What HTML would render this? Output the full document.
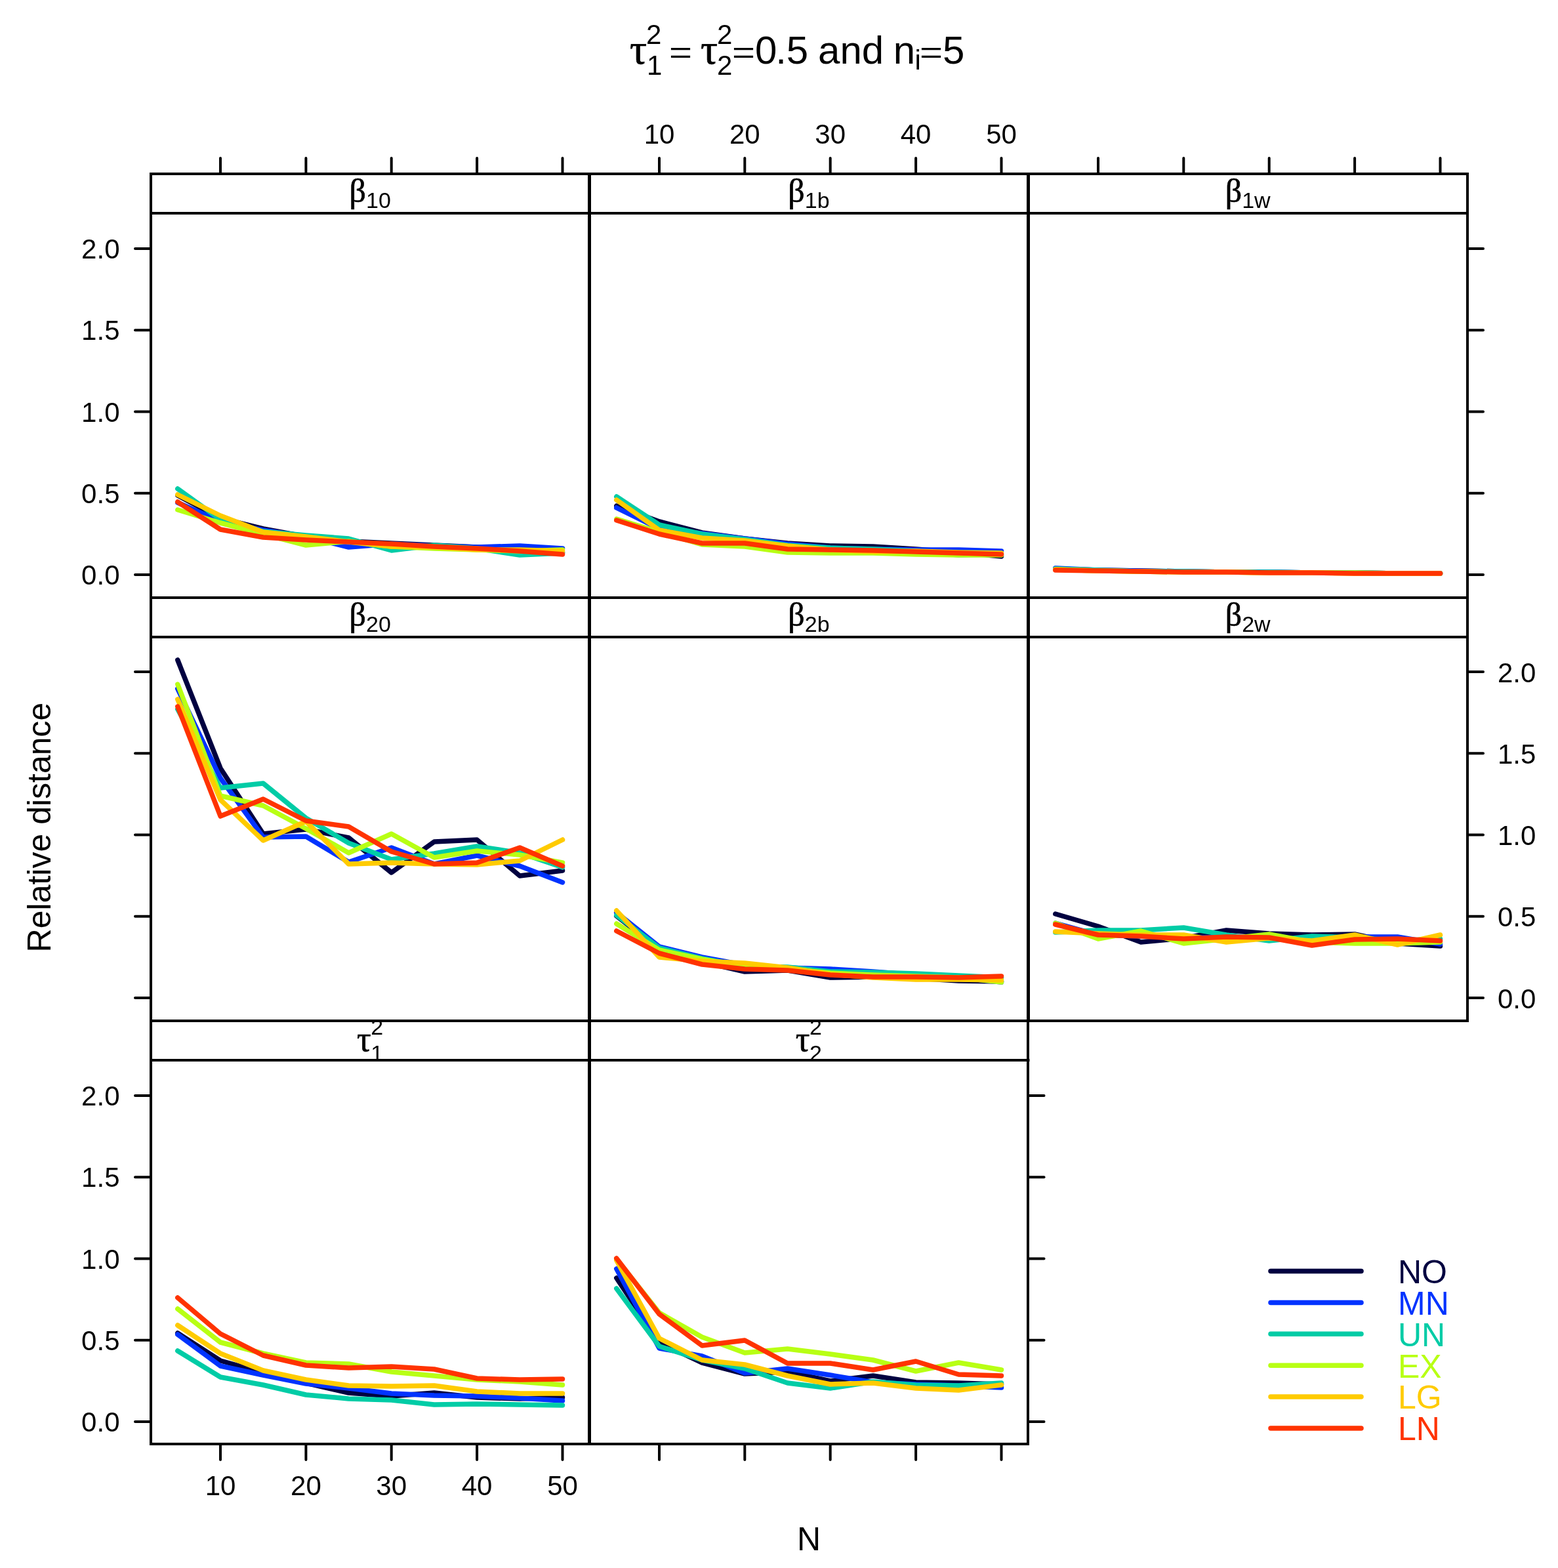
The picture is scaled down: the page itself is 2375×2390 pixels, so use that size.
<!DOCTYPE html><html><head><meta charset="utf-8"><title>Relative distance plot</title>
<style>html,body{margin:0;padding:0;background:#fff;overflow:hidden;width:2375px;height:2390px;}svg{display:block;}text{font-family:'Liberation Sans', Arial, Helvetica, sans-serif;fill:#000;}.g{font-family:'Liberation Serif', 'Times New Roman', serif;stroke:#000;stroke-width:0.7px;}</style></head><body>
<svg width="2375" height="2390" viewBox="0 0 2375 2390">
<rect x="0" y="0" width="2375" height="2390" fill="#fff"/>
<defs>
<clipPath id="c00"><rect x="230" y="325" width="668.5" height="586"/></clipPath>
<clipPath id="c01"><rect x="898.5" y="325" width="669" height="586"/></clipPath>
<clipPath id="c02"><rect x="1567.5" y="325" width="669.5" height="586"/></clipPath>
<clipPath id="c10"><rect x="230" y="971" width="668.5" height="585"/></clipPath>
<clipPath id="c11"><rect x="898.5" y="971" width="669" height="585"/></clipPath>
<clipPath id="c12"><rect x="1567.5" y="971" width="669.5" height="585"/></clipPath>
<clipPath id="c20"><rect x="230" y="1616" width="668.5" height="585"/></clipPath>
<clipPath id="c21"><rect x="898.5" y="1616" width="669" height="585"/></clipPath>
</defs>
<g clip-path="url(#c00)" fill="none" stroke-width="7.5" stroke-linecap="round" stroke-linejoin="round">
<polyline stroke="#000040" points="270.8,755 336.0,790 401.2,806 466.4,818 531.5,825 596.7,828 661.9,831 727.1,834 792.3,838 857.5,842"/>
<polyline stroke="#0033FF" points="270.8,766 336.0,795 401.2,808 466.4,818 531.5,834 596.7,829 661.9,832 727.1,834 792.3,832 857.5,836"/>
<polyline stroke="#00CCA6" points="270.8,745 336.0,792 401.2,810 466.4,816 531.5,821 596.7,839 661.9,831 727.1,836 792.3,846 857.5,843"/>
<polyline stroke="#B8FF14" points="270.8,777 336.0,797 401.2,814 466.4,831 531.5,825 596.7,833 661.9,836 727.1,838 792.3,840 857.5,838"/>
<polyline stroke="#FFCB00" points="270.8,754 336.0,786 401.2,811 466.4,818 531.5,826 596.7,833 661.9,834 727.1,838 792.3,838 857.5,840"/>
<polyline stroke="#FF3300" points="270.8,765 336.0,807 401.2,819 466.4,823 531.5,826 596.7,829 661.9,833 727.1,836 792.3,840 857.5,845"/>
</g>
<g clip-path="url(#c01)" fill="none" stroke-width="7.5" stroke-linecap="round" stroke-linejoin="round">
<polyline stroke="#000040" points="939.8,771 1005.0,795 1070.2,812 1135.3,821 1200.5,828 1265.7,832 1330.9,833 1396.1,837 1461.3,842 1526.5,848"/>
<polyline stroke="#0033FF" points="939.8,774 1005.0,806 1070.2,813 1135.3,821 1200.5,829 1265.7,835 1330.9,837 1396.1,838 1461.3,838 1526.5,840"/>
<polyline stroke="#00CCA6" points="939.8,757 1005.0,800 1070.2,814 1135.3,822 1200.5,831 1265.7,835 1330.9,837 1396.1,840 1461.3,846 1526.5,845"/>
<polyline stroke="#B8FF14" points="939.8,791 1005.0,811 1070.2,830 1135.3,833 1200.5,842 1265.7,843 1330.9,843 1396.1,845 1461.3,846 1526.5,846"/>
<polyline stroke="#FFCB00" points="939.8,762 1005.0,808 1070.2,820 1135.3,824 1200.5,832 1265.7,838 1330.9,841 1396.1,840 1461.3,842 1526.5,843"/>
<polyline stroke="#FF3300" points="939.8,793 1005.0,814 1070.2,828 1135.3,828 1200.5,837 1265.7,838 1330.9,839 1396.1,841 1461.3,843 1526.5,845"/>
</g>
<g clip-path="url(#c02)" fill="none" stroke-width="7.5" stroke-linecap="round" stroke-linejoin="round">
<polyline stroke="#000040" points="1608.8,867 1674.0,869 1739.2,870 1804.3,871 1869.5,872 1934.7,872 1999.9,873 2065.1,873 2130.3,874 2195.5,874"/>
<polyline stroke="#0033FF" points="1608.8,866 1674.0,869 1739.2,870 1804.3,871 1869.5,872 1934.7,872 1999.9,873 2065.1,873 2130.3,874 2195.5,874"/>
<polyline stroke="#00CCA6" points="1608.8,867 1674.0,869 1739.2,871 1804.3,871 1869.5,872 1934.7,872 1999.9,873 2065.1,873 2130.3,874 2195.5,874"/>
<polyline stroke="#B8FF14" points="1608.8,868 1674.0,870 1739.2,871 1804.3,872 1869.5,872 1934.7,873 1999.9,873 2065.1,873 2130.3,874 2195.5,874"/>
<polyline stroke="#FFCB00" points="1608.8,868 1674.0,870 1739.2,871 1804.3,872 1869.5,872 1934.7,873 1999.9,873 2065.1,874 2130.3,874 2195.5,874"/>
<polyline stroke="#FF3300" points="1608.8,869 1674.0,870 1739.2,871 1804.3,872 1869.5,872 1934.7,873 1999.9,873 2065.1,874 2130.3,874 2195.5,874"/>
</g>
<g clip-path="url(#c10)" fill="none" stroke-width="7.5" stroke-linecap="round" stroke-linejoin="round">
<polyline stroke="#000040" points="270.8,1006 336.0,1171 401.2,1271 466.4,1264 531.5,1277 596.7,1330 661.9,1283 727.1,1280 792.3,1335 857.5,1327"/>
<polyline stroke="#0033FF" points="270.8,1050 336.0,1186 401.2,1276 466.4,1275 531.5,1314 596.7,1292 661.9,1317 727.1,1304 792.3,1320 857.5,1345"/>
<polyline stroke="#00CCA6" points="270.8,1081 336.0,1201 401.2,1194 466.4,1247 531.5,1285 596.7,1310 661.9,1301 727.1,1290 792.3,1300 857.5,1322"/>
<polyline stroke="#B8FF14" points="270.8,1043 336.0,1213 401.2,1228 466.4,1263 531.5,1300 596.7,1271 661.9,1307 727.1,1297 792.3,1303 857.5,1315"/>
<polyline stroke="#FFCB00" points="270.8,1066 336.0,1219 401.2,1281 466.4,1252 531.5,1317 596.7,1315 661.9,1317 727.1,1318 792.3,1312 857.5,1280"/>
<polyline stroke="#FF3300" points="270.8,1077 336.0,1244 401.2,1218 466.4,1251 531.5,1260 596.7,1298 661.9,1317 727.1,1315 792.3,1292 857.5,1320"/>
</g>
<g clip-path="url(#c11)" fill="none" stroke-width="7.5" stroke-linecap="round" stroke-linejoin="round">
<polyline stroke="#000040" points="939.8,1396 1005.0,1447 1070.2,1466 1135.3,1481 1200.5,1479 1265.7,1490 1330.9,1489 1396.1,1491 1461.3,1495 1526.5,1496"/>
<polyline stroke="#0033FF" points="939.8,1391 1005.0,1443 1070.2,1459 1135.3,1471 1200.5,1475 1265.7,1477 1330.9,1481 1396.1,1486 1461.3,1490 1526.5,1497"/>
<polyline stroke="#00CCA6" points="939.8,1395 1005.0,1445 1070.2,1461 1135.3,1473 1200.5,1474 1265.7,1481 1330.9,1482 1396.1,1484 1461.3,1487 1526.5,1490"/>
<polyline stroke="#B8FF14" points="939.8,1408 1005.0,1448 1070.2,1462 1135.3,1473 1200.5,1477 1265.7,1483 1330.9,1486 1396.1,1488 1461.3,1490 1526.5,1497"/>
<polyline stroke="#FFCB00" points="939.8,1388 1005.0,1459 1070.2,1465 1135.3,1468 1200.5,1475 1265.7,1485 1330.9,1490 1396.1,1493 1461.3,1493 1526.5,1494"/>
<polyline stroke="#FF3300" points="939.8,1419 1005.0,1453 1070.2,1470 1135.3,1477 1200.5,1479 1265.7,1486 1330.9,1489 1396.1,1489 1461.3,1490 1526.5,1488"/>
</g>
<g clip-path="url(#c12)" fill="none" stroke-width="7.5" stroke-linecap="round" stroke-linejoin="round">
<polyline stroke="#000040" points="1608.8,1393 1674.0,1412 1739.2,1436 1804.3,1430 1869.5,1418 1934.7,1423 1999.9,1425 2065.1,1424 2130.3,1438 2195.5,1442"/>
<polyline stroke="#0033FF" points="1608.8,1407 1674.0,1425 1739.2,1427 1804.3,1430 1869.5,1428 1934.7,1430 1999.9,1432 2065.1,1428 2130.3,1428 2195.5,1439"/>
<polyline stroke="#00CCA6" points="1608.8,1421 1674.0,1418 1739.2,1418 1804.3,1414 1869.5,1425 1934.7,1434 1999.9,1427 2065.1,1429 2130.3,1434 2195.5,1431"/>
<polyline stroke="#B8FF14" points="1608.8,1407 1674.0,1431 1739.2,1419 1804.3,1438 1869.5,1431 1934.7,1424 1999.9,1436 2065.1,1438 2130.3,1438 2195.5,1436"/>
<polyline stroke="#FFCB00" points="1608.8,1420 1674.0,1423 1739.2,1425 1804.3,1425 1869.5,1436 1934.7,1430 1999.9,1434 2065.1,1425 2130.3,1440 2195.5,1425"/>
<polyline stroke="#FF3300" points="1608.8,1409 1674.0,1425 1739.2,1427 1804.3,1431 1869.5,1428 1934.7,1429 1999.9,1441 2065.1,1432 2130.3,1431 2195.5,1434"/>
</g>
<g clip-path="url(#c20)" fill="none" stroke-width="7.5" stroke-linecap="round" stroke-linejoin="round">
<polyline stroke="#000040" points="270.8,2032 336.0,2074 401.2,2092 466.4,2108 531.5,2123 596.7,2128 661.9,2123 727.1,2130 792.3,2132 857.5,2130"/>
<polyline stroke="#0033FF" points="270.8,2034 336.0,2082 401.2,2096 466.4,2109 531.5,2116 596.7,2124 661.9,2127 727.1,2128 792.3,2131 857.5,2135"/>
<polyline stroke="#00CCA6" points="270.8,2059 336.0,2099 401.2,2111 466.4,2126 531.5,2132 596.7,2134 661.9,2141 727.1,2140 792.3,2141 857.5,2142"/>
<polyline stroke="#B8FF14" points="270.8,1995 336.0,2046 401.2,2063 466.4,2077 531.5,2079 596.7,2091 661.9,2097 727.1,2103 792.3,2106 857.5,2111"/>
<polyline stroke="#FFCB00" points="270.8,2020 336.0,2063 401.2,2089 466.4,2103 531.5,2112 596.7,2113 661.9,2112 727.1,2121 792.3,2124 857.5,2124"/>
<polyline stroke="#FF3300" points="270.8,1978 336.0,2033 401.2,2066 466.4,2081 531.5,2085 596.7,2083 661.9,2087 727.1,2101 792.3,2103 857.5,2102"/>
</g>
<g clip-path="url(#c21)" fill="none" stroke-width="7.5" stroke-linecap="round" stroke-linejoin="round">
<polyline stroke="#000040" points="939.8,1948 1005.0,2046 1070.2,2077 1135.3,2094 1200.5,2091 1265.7,2105 1330.9,2097 1396.1,2107 1461.3,2108 1526.5,2110"/>
<polyline stroke="#0033FF" points="939.8,1934 1005.0,2055 1070.2,2067 1135.3,2093 1200.5,2086 1265.7,2096 1330.9,2107 1396.1,2110 1461.3,2112 1526.5,2115"/>
<polyline stroke="#00CCA6" points="939.8,1964 1005.0,2052 1070.2,2073 1135.3,2086 1200.5,2108 1265.7,2116 1330.9,2106 1396.1,2111 1461.3,2112 1526.5,2108"/>
<polyline stroke="#B8FF14" points="939.8,1919 1005.0,2001 1070.2,2038 1135.3,2062 1200.5,2056 1265.7,2064 1330.9,2073 1396.1,2090 1461.3,2077 1526.5,2088"/>
<polyline stroke="#FFCB00" points="939.8,1921 1005.0,2040 1070.2,2073 1135.3,2080 1200.5,2097 1265.7,2110 1330.9,2108 1396.1,2116 1461.3,2119 1526.5,2111"/>
<polyline stroke="#FF3300" points="939.8,1918 1005.0,2003 1070.2,2051 1135.3,2043 1200.5,2078 1265.7,2078 1330.9,2088 1396.1,2075 1461.3,2095 1526.5,2097"/>
</g>
<g fill="none" stroke="#000" stroke-width="4" stroke-linecap="square">
<rect x="230" y="265" width="668" height="646"/>
<line x1="230" y1="325" x2="898.5" y2="325"/>
<rect x="899" y="265" width="668" height="646"/>
<line x1="898.5" y1="325" x2="1567.5" y2="325"/>
<rect x="1568" y="265" width="669" height="646"/>
<line x1="1567.5" y1="325" x2="2237" y2="325"/>
<rect x="230" y="911" width="668" height="645"/>
<line x1="230" y1="971" x2="898.5" y2="971"/>
<rect x="899" y="911" width="668" height="645"/>
<line x1="898.5" y1="971" x2="1567.5" y2="971"/>
<rect x="1568" y="911" width="669" height="645"/>
<line x1="1567.5" y1="971" x2="2237" y2="971"/>
<rect x="230" y="1556" width="668" height="645"/>
<line x1="230" y1="1616" x2="898.5" y2="1616"/>
<rect x="899" y="1556" width="668" height="645"/>
<line x1="898.5" y1="1616" x2="1567.5" y2="1616"/>
</g>
<g stroke="#000" stroke-width="4" stroke-linecap="round">
<line x1="336.0" y1="265" x2="336.0" y2="241"/>
<line x1="466.4" y1="265" x2="466.4" y2="241"/>
<line x1="596.7" y1="265" x2="596.7" y2="241"/>
<line x1="727.1" y1="265" x2="727.1" y2="241"/>
<line x1="857.5" y1="265" x2="857.5" y2="241"/>
<line x1="1005.0" y1="265" x2="1005.0" y2="241"/>
<line x1="1135.3" y1="265" x2="1135.3" y2="241"/>
<line x1="1265.7" y1="265" x2="1265.7" y2="241"/>
<line x1="1396.1" y1="265" x2="1396.1" y2="241"/>
<line x1="1526.5" y1="265" x2="1526.5" y2="241"/>
<line x1="1674.0" y1="265" x2="1674.0" y2="241"/>
<line x1="1804.3" y1="265" x2="1804.3" y2="241"/>
<line x1="1934.7" y1="265" x2="1934.7" y2="241"/>
<line x1="2065.1" y1="265" x2="2065.1" y2="241"/>
<line x1="2195.5" y1="265" x2="2195.5" y2="241"/>
<line x1="336.0" y1="2201" x2="336.0" y2="2225"/>
<line x1="466.4" y1="2201" x2="466.4" y2="2225"/>
<line x1="596.7" y1="2201" x2="596.7" y2="2225"/>
<line x1="727.1" y1="2201" x2="727.1" y2="2225"/>
<line x1="857.5" y1="2201" x2="857.5" y2="2225"/>
<line x1="1005.0" y1="2201" x2="1005.0" y2="2225"/>
<line x1="1135.3" y1="2201" x2="1135.3" y2="2225"/>
<line x1="1265.7" y1="2201" x2="1265.7" y2="2225"/>
<line x1="1396.1" y1="2201" x2="1396.1" y2="2225"/>
<line x1="1526.5" y1="2201" x2="1526.5" y2="2225"/>
<line x1="230" y1="876.0" x2="206" y2="876.0"/>
<line x1="2237" y1="876.0" x2="2261" y2="876.0"/>
<line x1="230" y1="751.8" x2="206" y2="751.8"/>
<line x1="2237" y1="751.8" x2="2261" y2="751.8"/>
<line x1="230" y1="627.5" x2="206" y2="627.5"/>
<line x1="2237" y1="627.5" x2="2261" y2="627.5"/>
<line x1="230" y1="503.2" x2="206" y2="503.2"/>
<line x1="2237" y1="503.2" x2="2261" y2="503.2"/>
<line x1="230" y1="379.0" x2="206" y2="379.0"/>
<line x1="2237" y1="379.0" x2="2261" y2="379.0"/>
<line x1="230" y1="1521.0" x2="206" y2="1521.0"/>
<line x1="2237" y1="1521.0" x2="2261" y2="1521.0"/>
<line x1="230" y1="1396.8" x2="206" y2="1396.8"/>
<line x1="2237" y1="1396.8" x2="2261" y2="1396.8"/>
<line x1="230" y1="1272.5" x2="206" y2="1272.5"/>
<line x1="2237" y1="1272.5" x2="2261" y2="1272.5"/>
<line x1="230" y1="1148.2" x2="206" y2="1148.2"/>
<line x1="2237" y1="1148.2" x2="2261" y2="1148.2"/>
<line x1="230" y1="1024.0" x2="206" y2="1024.0"/>
<line x1="2237" y1="1024.0" x2="2261" y2="1024.0"/>
<line x1="230" y1="2167.0" x2="206" y2="2167.0"/>
<line x1="1567.5" y1="2167.0" x2="1591.5" y2="2167.0"/>
<line x1="230" y1="2042.8" x2="206" y2="2042.8"/>
<line x1="1567.5" y1="2042.8" x2="1591.5" y2="2042.8"/>
<line x1="230" y1="1918.5" x2="206" y2="1918.5"/>
<line x1="1567.5" y1="1918.5" x2="1591.5" y2="1918.5"/>
<line x1="230" y1="1794.2" x2="206" y2="1794.2"/>
<line x1="1567.5" y1="1794.2" x2="1591.5" y2="1794.2"/>
<line x1="230" y1="1670.0" x2="206" y2="1670.0"/>
<line x1="1567.5" y1="1670.0" x2="1591.5" y2="1670.0"/>
</g>
<text x="182.5" y="891.0" font-size="42" text-anchor="end">0.0</text>
<text x="182.5" y="766.8" font-size="42" text-anchor="end">0.5</text>
<text x="182.5" y="642.5" font-size="42" text-anchor="end">1.0</text>
<text x="182.5" y="518.2" font-size="42" text-anchor="end">1.5</text>
<text x="182.5" y="394.0" font-size="42" text-anchor="end">2.0</text>
<text x="182.5" y="2182.0" font-size="42" text-anchor="end">0.0</text>
<text x="182.5" y="2057.8" font-size="42" text-anchor="end">0.5</text>
<text x="182.5" y="1933.5" font-size="42" text-anchor="end">1.0</text>
<text x="182.5" y="1809.2" font-size="42" text-anchor="end">1.5</text>
<text x="182.5" y="1685.0" font-size="42" text-anchor="end">2.0</text>
<text x="2283" y="1536.5" font-size="42" text-anchor="start">0.0</text>
<text x="2283" y="1412.2" font-size="42" text-anchor="start">0.5</text>
<text x="2283" y="1288.0" font-size="42" text-anchor="start">1.0</text>
<text x="2283" y="1163.8" font-size="42" text-anchor="start">1.5</text>
<text x="2283" y="1039.5" font-size="42" text-anchor="start">2.0</text>
<text x="1005.0" y="218.5" font-size="42" text-anchor="middle">10</text>
<text x="336.0" y="2279" font-size="42" text-anchor="middle">10</text>
<text x="1135.3" y="218.5" font-size="42" text-anchor="middle">20</text>
<text x="466.4" y="2279" font-size="42" text-anchor="middle">20</text>
<text x="1265.7" y="218.5" font-size="42" text-anchor="middle">30</text>
<text x="596.7" y="2279" font-size="42" text-anchor="middle">30</text>
<text x="1396.1" y="218.5" font-size="42" text-anchor="middle">40</text>
<text x="727.1" y="2279" font-size="42" text-anchor="middle">40</text>
<text x="1526.5" y="218.5" font-size="42" text-anchor="middle">50</text>
<text x="857.5" y="2279" font-size="42" text-anchor="middle">50</text>
<text x="564.2" y="308" text-anchor="middle"><tspan class="g" font-size="50">β</tspan><tspan font-size="34" dy="9">10</tspan></text>
<text x="1233.0" y="308" text-anchor="middle"><tspan class="g" font-size="50">β</tspan><tspan font-size="34" dy="9">1b</tspan></text>
<text x="1902.2" y="308" text-anchor="middle"><tspan class="g" font-size="50">β</tspan><tspan font-size="34" dy="9">1w</tspan></text>
<text x="564.2" y="954" text-anchor="middle"><tspan class="g" font-size="50">β</tspan><tspan font-size="34" dy="9">20</tspan></text>
<text x="1233.0" y="954" text-anchor="middle"><tspan class="g" font-size="50">β</tspan><tspan font-size="34" dy="9">2b</tspan></text>
<text x="1902.2" y="954" text-anchor="middle"><tspan class="g" font-size="50">β</tspan><tspan font-size="34" dy="9">2w</tspan></text>
<text class="g" x="565.8" y="1601.5" font-size="54" text-anchor="end">τ</text>
<text x="565.2" y="1577" font-size="34">2</text>
<text x="565.2" y="1617" font-size="34">1</text>
<text class="g" x="1234.5" y="1601.5" font-size="54" text-anchor="end">τ</text>
<text x="1234.0" y="1577" font-size="34">2</text>
<text x="1234.0" y="1617" font-size="34">2</text>
<text class="g" x="960" y="97" font-size="65">τ</text>
<text x="985" y="66.8" font-size="42">2</text>
<text x="986" y="114" font-size="42">1</text>
<text transform="translate(1020,81.6) scale(1,0.76)" x="0" y="19.5" font-size="60">=</text>
<text class="g" x="1068" y="97" font-size="65">τ</text>
<text x="1093" y="66.8" font-size="42">2</text>
<text x="1093" y="114" font-size="42">2</text>
<text transform="translate(1116,81.6) scale(1,0.76)" x="0" y="19.5" font-size="60">=</text>
<text x="1151" y="97" font-size="60">0</text>
<text x="1182.2" y="97" font-size="60">.5</text>
<text x="1247.1" y="97" font-size="60">and</text>
<text x="1361.8" y="97" font-size="60">n</text>
<text x="1394.5" y="105.8" font-size="42">i</text>
<text transform="translate(1402,81.6) scale(1,0.76)" x="0" y="19.5" font-size="60">=</text>
<text x="1437" y="97" font-size="60">5</text>
<text x="1233" y="2363" font-size="50" text-anchor="middle">N</text>
<text x="0" y="0" font-size="50" text-anchor="middle" transform="translate(77,1261) rotate(-90)">Relative distance</text>
<line x1="1937" y1="1937.5" x2="2075" y2="1937.5" stroke="#000040" stroke-width="7.5" stroke-linecap="round"/>
<text x="2131" y="1955.8" font-size="50" style="fill:#000040">NO</text>
<line x1="1937" y1="1985.4" x2="2075" y2="1985.4" stroke="#0033FF" stroke-width="7.5" stroke-linecap="round"/>
<text x="2131" y="2003.7" font-size="50" style="fill:#0033FF">MN</text>
<line x1="1937" y1="2033.3" x2="2075" y2="2033.3" stroke="#00CCA6" stroke-width="7.5" stroke-linecap="round"/>
<text x="2131" y="2051.6" font-size="50" style="fill:#00CCA6">UN</text>
<line x1="1937" y1="2081.2" x2="2075" y2="2081.2" stroke="#B8FF14" stroke-width="7.5" stroke-linecap="round"/>
<text x="2131" y="2099.5" font-size="50" style="fill:#B8FF14">EX</text>
<line x1="1937" y1="2129.1" x2="2075" y2="2129.1" stroke="#FFCB00" stroke-width="7.5" stroke-linecap="round"/>
<text x="2131" y="2147.4" font-size="50" style="fill:#FFCB00">LG</text>
<line x1="1937" y1="2177.0" x2="2075" y2="2177.0" stroke="#FF3300" stroke-width="7.5" stroke-linecap="round"/>
<text x="2131" y="2195.3" font-size="50" style="fill:#FF3300">LN</text>
</svg></body></html>
